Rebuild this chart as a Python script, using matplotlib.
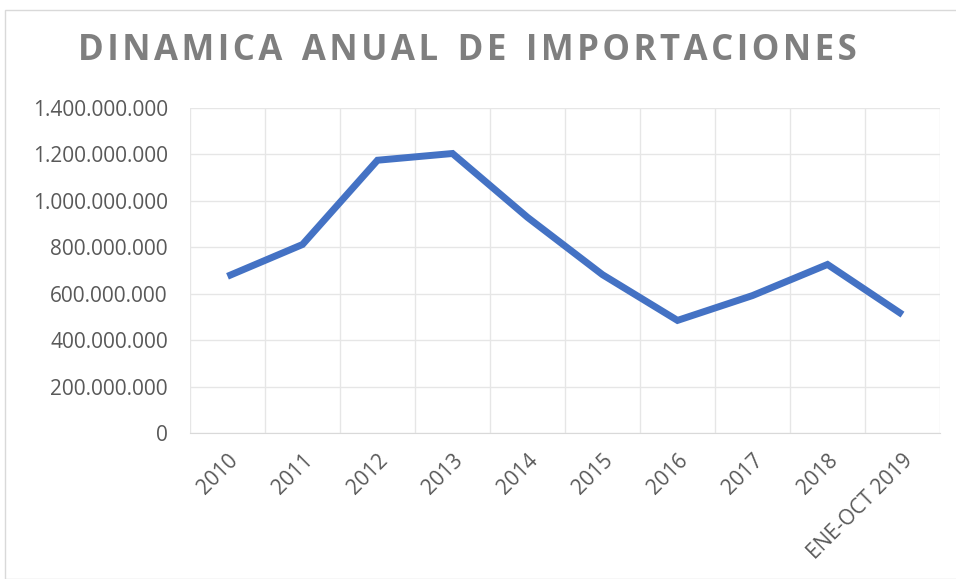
import matplotlib
matplotlib.use("Agg")
import matplotlib.pyplot as plt
from matplotlib.ticker import FuncFormatter, MultipleLocator
from matplotlib.patches import Rectangle

categories = ["2010", "2011", "2012", "2013", "2014", "2015", "2016", "2017", "2018", "ENE-OCT 2019"]
values = [675e6, 812e6, 1175e6, 1204e6, 929e6, 682e6, 485e6, 592e6, 726e6, 510e6]
title = "DINAMICA ANUAL DE IMPORTACIONES"

plt.rcParams['font.family'] = ['Open Sans', 'DejaVu Sans']

fig = plt.figure(figsize=(9.56, 5.79), dpi=100)
fig.patches.append(Rectangle((5/956, 0), 1, 1 - 10/579, transform=fig.transFigure,
                             fill=False, edgecolor='#d9d9d9', linewidth=1.0))
ax = fig.add_axes([190/956, 1 - 433/579, 750/956, 325/579])

x = list(range(len(categories)))
ax.plot(x, values, color='#4472C4', linewidth=5, solid_joinstyle='miter', solid_capstyle='butt', zorder=3)

ax.set_xlim(-0.5, len(categories) - 0.5)
ax.set_ylim(0, 1.4e9)
ax.yaxis.set_major_locator(MultipleLocator(2e8))
ax.yaxis.set_major_formatter(FuncFormatter(lambda v, p: f"{int(round(v)):,}".replace(",", ".")))
ax.set_xticks(x)
ax.set_xticklabels(categories, rotation=45, ha='right', rotation_mode='anchor')
ax.set_xticks([i - 0.5 for i in range(len(categories) + 1)], minor=True)
ax.grid(True, which='major', axis='y', color='#e6e6e6', linewidth=1)
ax.grid(True, which='minor', axis='x', color='#e6e6e6', linewidth=1)
ax.tick_params(axis='both', which='both', length=0, labelcolor='#595959', labelsize=15)
ax.tick_params(axis='x', pad=12)
ax.tick_params(axis='y', pad=16)
for s in ['top', 'right', 'left']:
    ax.spines[s].set_visible(False)
ax.spines['bottom'].set_color('#d9d9d9')
ax.set_axisbelow(True)

spaced = "\u200a".join(title).replace("\u200a \u200a", "\u200a \u200a\u200a")
fig.text(467/956, 1 - 51/579, spaced,
         ha='center', va='center', fontsize=25, fontweight='bold', color='#7f7f7f')

fig.savefig("out.png", dpi=100)
